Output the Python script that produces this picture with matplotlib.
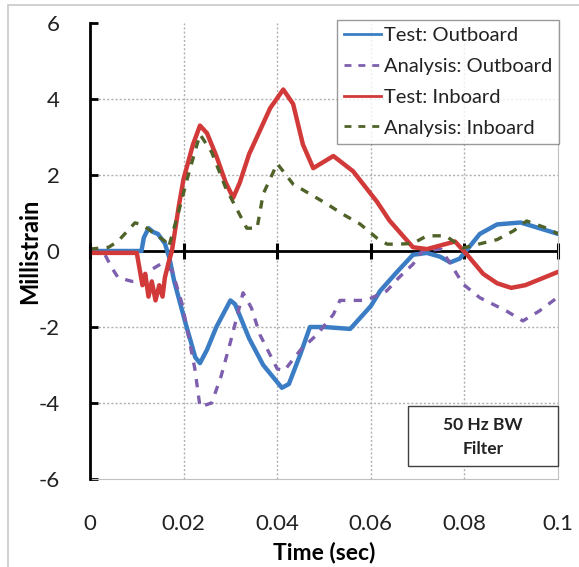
import matplotlib
matplotlib.use("Agg")
import matplotlib.pyplot as plt
from matplotlib.patches import Rectangle

plt.rcParams['font.family'] = ['Lato', 'DejaVu Sans']

# ---- data ----
t_test_out = [0, 0.011, 0.0115, 0.0125, 0.0135, 0.0145, 0.016, 0.017, 0.018, 0.0203, 0.0225,
              0.0235, 0.025, 0.027, 0.030, 0.031, 0.034, 0.037, 0.041, 0.0425, 0.045, 0.047,
              0.050, 0.0556, 0.060, 0.062, 0.0656, 0.069, 0.072, 0.0748, 0.077, 0.079, 0.081,
              0.0833, 0.087, 0.092, 0.096, 0.100]
v_test_out = [0, 0, 0.35, 0.6, 0.5, 0.45, 0.2, -0.2, -0.8, -1.85, -2.8,
              -2.95, -2.6, -2.0, -1.3, -1.4, -2.3, -3.0, -3.6, -3.5, -2.7, -2.0,
              -2.0, -2.05, -1.45, -1.05, -0.55, -0.1, -0.05, -0.15, -0.3, -0.2, 0.1,
              0.45, 0.7, 0.75, 0.6, 0.45]

t_ana_out = [0, 0.003, 0.0047, 0.006, 0.009, 0.0107, 0.013, 0.015, 0.0165, 0.0175, 0.0197,
             0.0224, 0.0235, 0.026, 0.028, 0.030, 0.0327, 0.0345, 0.0363, 0.040, 0.0415,
             0.045, 0.0485, 0.052, 0.0534, 0.059, 0.0634, 0.066, 0.069, 0.071, 0.075,
             0.0776, 0.0797, 0.0833, 0.089, 0.0925, 0.096, 0.0998]
v_ana_out = [0, -0.05, -0.45, -0.7, -0.8, -0.8, -0.5, -0.35, -0.45, -0.5, -1.4,
             -3.1, -4.1, -4.0, -3.3, -2.4, -1.1, -1.5, -2.2, -3.1, -3.15,
             -2.6, -2.2, -1.67, -1.3, -1.3, -1.05, -0.7, -0.35, 0.0, 0.05,
             -0.45, -0.87, -1.23, -1.58, -1.84, -1.58, -1.23]

t_test_in = [0, 0.005, 0.010, 0.0112, 0.0118, 0.0125, 0.0132, 0.014, 0.0148, 0.0155, 0.016,
             0.0168, 0.0175, 0.019, 0.020, 0.022, 0.0235, 0.025, 0.027, 0.029, 0.0306,
             0.032, 0.034, 0.0385, 0.0413, 0.0434, 0.0455, 0.0477, 0.052, 0.0562, 0.0613,
             0.064, 0.069, 0.072, 0.075, 0.078, 0.0806, 0.084, 0.087, 0.090, 0.093, 0.096, 0.100]
v_test_in = [-0.05, -0.05, -0.05, -0.9, -0.6, -1.2, -0.8, -1.3, -0.9, -1.2, -0.7,
             -0.3, 0.0, 1.2, 1.9, 2.8, 3.3, 3.1, 2.5, 1.8, 1.4,
             1.8, 2.55, 3.76, 4.25, 3.87, 2.8, 2.18, 2.5, 2.1, 1.3,
             0.8, 0.1, 0.05, 0.15, 0.25, -0.1, -0.6, -0.85, -0.97, -0.9, -0.75, -0.55]

t_ana_in = [0, 0.004, 0.006, 0.0096, 0.011, 0.0124, 0.016, 0.0168, 0.0188, 0.021, 0.0235,
            0.026, 0.029, 0.0335, 0.0357, 0.037, 0.040, 0.0434, 0.047, 0.0506, 0.054,
            0.0577, 0.0613, 0.0635, 0.066, 0.069, 0.072, 0.076, 0.0797, 0.083, 0.087,
            0.0905, 0.0933, 0.0976, 0.100]
v_ana_in = [0.05, 0.1, 0.26, 0.74, 0.7, 0.58, 0.26, 0.1, 0.97, 2.0, 3.07,
            2.6, 1.66, 0.6, 0.6, 1.5, 2.3, 1.76, 1.5, 1.24, 0.97,
            0.71, 0.34, 0.18, 0.18, 0.2, 0.4, 0.4, 0.08, 0.18, 0.3,
            0.53, 0.79, 0.6, 0.45]

x_ticks = [0, 0.02, 0.04, 0.06, 0.08, 0.1]
x_labels = ['0', '0.02', '0.04', '0.06', '0.08', '0.1']
y_ticks = [-6, -4, -2, 0, 2, 4, 6]
y_labels = ['-6', '-4', '-2', '0', '2', '4', '6']
grid_y = [-4, -2, 2, 4]
grid_x = [0.02, 0.04, 0.06, 0.08]

# ---- figure ----
W, H = 579, 567
fig = plt.figure(figsize=(W / 100, H / 100), dpi=100)
fig.patches.append(Rectangle((8 / W, -0.1), 1.2, 1 - 5 / H + 0.1, transform=fig.transFigure,
                             fill=False, edgecolor='#c8c8c8', lw=1.2, zorder=0))
ax = fig.add_axes([90 / W, 1 - 479 / H, (558 - 90) / W, (479 - 23) / H])

c_blue = '#3b7dc4'
c_purple = '#7d5fae'
c_red = '#d23a3a'
c_green = '#4f6228'

ax.plot(t_test_out, v_test_out, color=c_blue, lw=3.2, label='Test: Outboard', zorder=3)
ax.plot(t_ana_out, v_ana_out, color=c_purple, lw=2.4, ls=(0, (2.5, 2.5)), label='Analysis: Outboard', zorder=3)
ax.plot(t_test_in, v_test_in, color=c_red, lw=3.2, label='Test: Inboard', zorder=3)
ax.plot(t_ana_in, v_ana_in, color=c_green, lw=2.4, ls=(0, (2.5, 2.5)), label='Analysis: Inboard', zorder=3)

ax.set_xlim(0, 0.1)
ax.set_ylim(-6, 6)
ax.set_xticks(x_ticks)
ax.set_xticklabels(x_labels)
ax.set_yticks(y_ticks)
ax.set_yticklabels(y_labels)

for yv in grid_y:
    ax.axhline(yv, color='#b0b0b0', lw=1.0, ls=(0, (1.5, 1.5)), zorder=1)
for xv in grid_x:
    ax.axvline(xv, color='#b0b0b0', lw=1.0, ls=(0, (1.5, 1.5)), zorder=1)

# horizontal axis line at zero with crossing tick marks
ax.axhline(0, color='black', lw=2.0, zorder=2)
ax.plot(x_ticks, [0] * len(x_ticks), ls='none', marker='|', markersize=11, mew=2.2,
        color='black', clip_on=False, zorder=2)

ax.spines['top'].set_visible(False)
ax.spines['right'].set_color('#c0c0c0')
ax.spines['bottom'].set_color('#c0c0c0')
ax.spines['left'].set_color('black')
ax.spines['left'].set_linewidth(2.0)
ax.spines['left'].set_zorder(4)

ax.tick_params(axis='x', length=0, pad=25, labelsize=16, colors='#222222')
ax.tick_params(axis='y', direction='in', length=6, width=2, pad=22, labelsize=16, colors='black',
               labelcolor='#222222')

ax.set_xlabel('Time (sec)', fontsize=16.5, fontweight='bold', labelpad=6)
ax.set_ylabel('Millistrain', fontsize=17, fontweight='bold', labelpad=-2)

leg = ax.legend(loc='upper right', bbox_to_anchor=(559 / W, 1 - 20 / H), bbox_transform=fig.transFigure,
                fontsize=14.5, frameon=True, fancybox=False, handlelength=1.8, handletextpad=0.15,
                borderpad=0.35, labelspacing=0.68, borderaxespad=0)
leg.get_frame().set_edgecolor('#808080')
leg.get_frame().set_linewidth(1.0)
for h in leg.get_lines():
    h.set_linewidth(2.0)
for txt in leg.get_texts():
    txt.set_color('#222222')

fig.patches.append(Rectangle((408 / W, 1 - 466 / H), 150 / W, 60 / H, transform=fig.transFigure,
                             facecolor='white', edgecolor='#404040', lw=1.0, zorder=5))
fig.text(483 / W, 1 - 437 / H, '50 Hz BW\nFilter', ha='center', va='center',
         fontsize=12.5, fontweight='bold', color='#222222', linespacing=1.55, zorder=6)

fig.savefig('out.png', dpi=100)
